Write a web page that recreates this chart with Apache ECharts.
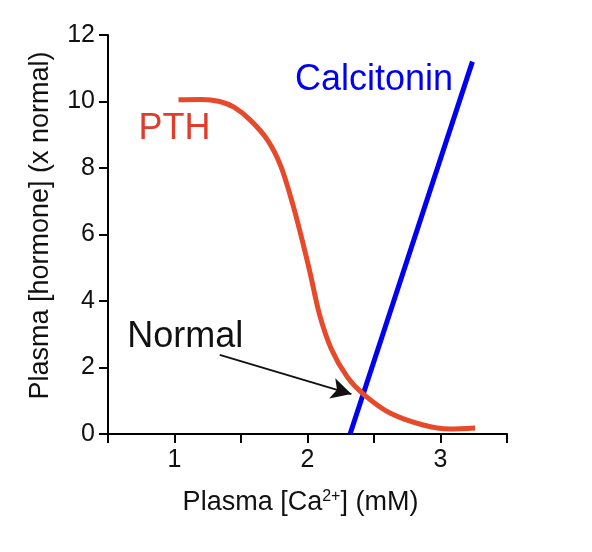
<!DOCTYPE html>
<html>
<head>
<meta charset="utf-8">
<script src="https://cdn.jsdelivr.net/npm/echarts@6/dist/echarts.min.js"></script>
<style>html,body{margin:0;padding:0;background:#fff}#c{width:592px;height:552px}</style>
</head>
<body>
<div id="c"></div>
<script>
var pthCa = [1.03, 1.2, 1.34, 1.45, 1.57, 1.70, 1.80, 1.89, 1.96, 2.02, 2.09, 2.18, 2.30, 2.42, 2.62, 2.87, 3.07, 3.26];
var pthLevel = [10.05, 10.06, 10.0, 9.82, 9.44, 8.84, 8.05, 6.9, 5.83, 4.84, 3.6, 2.55, 1.71, 1.2, 0.63, 0.27, 0.15, 0.18];
var calcCa = [2.32, 3.24];
var calcLevel = [0.0, 11.2];
var xTickLabels = ['1', '2', '3'];
var yTickLabels = ['0', '2', '4', '6', '8', '10', '12'];
var normalPoint = [2.33, 1.2];

var FONT = 'Liberation Sans, Arial, sans-serif';
var chart = echarts.init(document.getElementById('c'));
function zip(a, b) { return a.map(function (v, i) { return [v, b[i]]; }); }

chart.setOption({
  backgroundColor: '#fff',
  animation: false,
  grid: { left: 108, right: 85, top: 35, bottom: 118 },
  xAxis: {
    type: 'value', min: 0.5, max: 3.5, interval: 0.5,
    name: '{a|Plasma [Ca}{s|2+}{a|] (mM)}',
    nameLocation: 'middle', nameGap: 55,
    nameTextStyle: {
      padding: [0, 14, 0, 0],
      rich: {
        a: { fontFamily: FONT, fontSize: 27, color: '#111', verticalAlign: 'bottom' },
        s: { fontFamily: FONT, fontSize: 16, color: '#111', verticalAlign: 'top', padding: [0, 0, 10, 0] }
      }
    },
    axisLine: { lineStyle: { color: '#000', width: 2 } },
    axisTick: { length: 9, lineStyle: { color: '#000', width: 2 } },
    splitLine: { show: false },
    axisLabel: {
      margin: 14, fontFamily: FONT, fontSize: 25, color: '#111',
      formatter: function (v) {
        var s = String(Math.round(v * 10) / 10);
        return xTickLabels.indexOf(s) >= 0 ? s : '';
      }
    }
  },
  yAxis: {
    type: 'value', min: 0, max: 12, interval: 2,
    name: 'Plasma [hormone] (x normal)',
    nameLocation: 'middle', nameGap: 54,
    nameTextStyle: { fontFamily: FONT, fontSize: 27, color: '#111', padding: [0, 0, 0, 18] },
    axisLine: { show: true, lineStyle: { color: '#000', width: 2 } },
    axisTick: { show: true, length: 9, lineStyle: { color: '#000', width: 2 } },
    splitLine: { show: false },
    axisLabel: {
      margin: 13, fontFamily: FONT, fontSize: 25, color: '#111',
      formatter: function (v) { var s = String(v); return yTickLabels.indexOf(s) >= 0 ? s : ''; }
    }
  },
  series: [
    {
      type: 'line', name: 'PTH', data: zip(pthCa, pthLevel), smooth: 0.3,
      symbol: 'none', lineStyle: { color: '#E64A2A', width: 5 }, z: 3,
      markPoint: {
        symbol: 'circle', symbolSize: 0,
        label: { show: true, fontFamily: FONT, fontSize: 36, color: '#E03C2C', formatter: 'PTH' },
        data: [{ coord: [1.00, 9.16] }]
      }
    },
    {
      type: 'line', name: 'Calcitonin', data: zip(calcCa, calcLevel),
      symbol: 'none', lineStyle: { color: '#0000F2', width: 5 }, z: 2,
      markPoint: {
        symbol: 'circle', symbolSize: 0,
        label: { show: true, fontFamily: FONT, fontSize: 36, color: '#0000F2', formatter: 'Calcitonin' },
        data: [{ coord: [2.5, 10.64] }]
      }
    },
    {
      type: 'scatter', data: [], silent: true,
      markPoint: {
        symbol: 'circle', symbolSize: 0,
        label: { show: true, fontFamily: FONT, fontSize: 36, color: '#111', formatter: 'Normal' },
        data: [{ coord: [1.08, 2.92] }]
      },
      markLine: {
        silent: true, symbol: ['none', 'arrow'], symbolSize: [16, 20],
        label: { show: false },
        lineStyle: { color: '#111', width: 2, type: 'solid' },
        data: [[{ coord: [1.34, 2.38] }, { coord: normalPoint }]]
      }
    }
  ]
});
</script>
</body>
</html>
